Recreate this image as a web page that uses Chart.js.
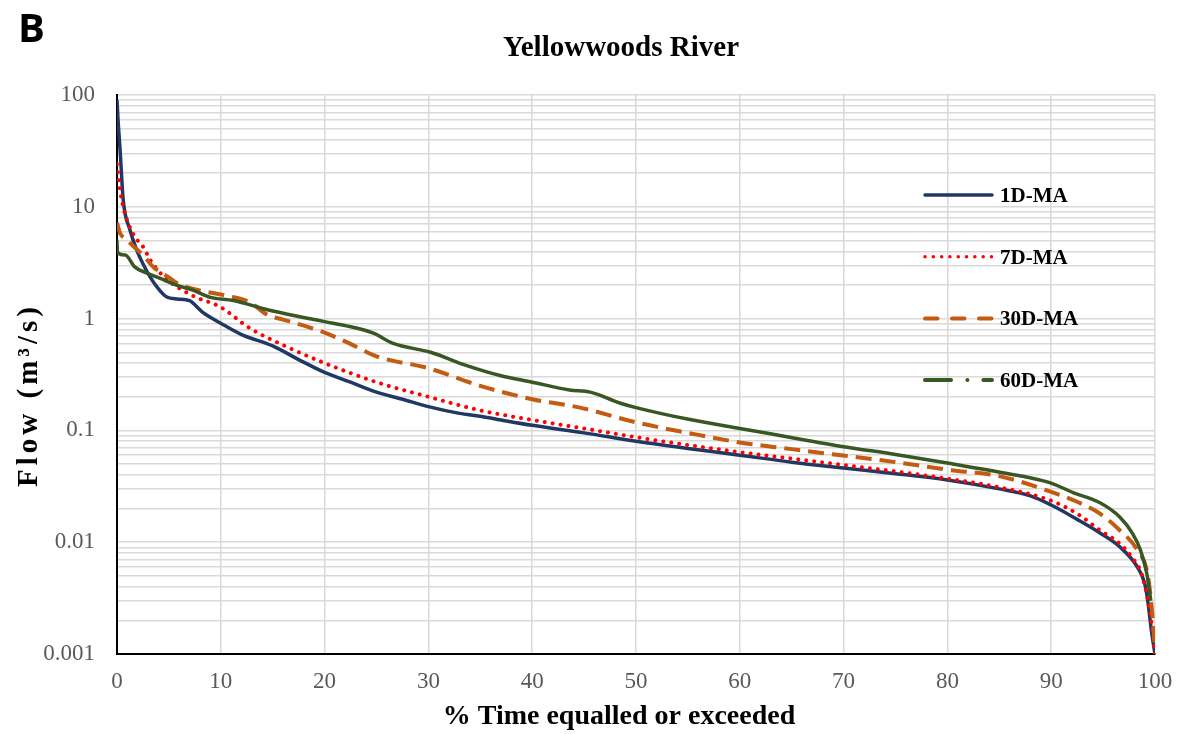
<!DOCTYPE html>
<html>
<head>
<meta charset="utf-8">
<title>Yellowwoods River</title>
<script src="https://cdn.jsdelivr.net/npm/chart.js@4.4.1/dist/chart.umd.min.js"></script>
<style>
  html, body { margin: 0; padding: 0; background: #ffffff; }
  #wrap { width: 1183px; height: 734px; }
</style>
</head>
<body>
<div id="wrap"><canvas id="fdcChart" width="1183" height="734"></canvas></div>
<script>
// Flow duration curves, Yellowwoods River
const seriesNames = ['1D-MA', '7D-MA', '30D-MA', '60D-MA'];

const pct1D  = [0, 0.1, 0.3, 0.6, 1.25, 1.9, 2.5, 3.2, 3.85, 4.8, 5.8, 7, 7.6, 8.3, 9.9, 12, 15, 17.5, 20, 22.5, 25, 27.5, 30, 33, 35, 37, 40, 45, 50, 55, 60, 65, 70, 75, 80, 85, 88, 90, 92.5, 94.7, 96.6, 98.3, 99, 99.3, 99.7, 100];
const flow1D = [90, 60, 32, 11.5, 6.2, 4.1, 3.1, 2.35, 1.92, 1.56, 1.5, 1.45, 1.3, 1.13, 0.92, 0.72, 0.57, 0.43, 0.33, 0.27, 0.22, 0.19, 0.163, 0.142, 0.134, 0.124, 0.111, 0.095, 0.080, 0.069, 0.060, 0.052, 0.046, 0.041, 0.036, 0.030, 0.026, 0.0215, 0.016, 0.0121, 0.0091, 0.0060, 0.0043, 0.003, 0.0015, 0.001];

const pct7D  = [0, 0.3, 0.6, 1.06, 1.7, 2.5, 3.2, 4.1, 5.1, 6.3, 7.7, 9.9, 12.8, 16, 20, 25, 30, 35, 40, 45, 50, 55, 60, 65, 70, 75, 80, 85, 90, 92.5, 94.7, 96.6, 97.8, 98.8, 99.6, 100];
const flow7D = [24, 14, 10, 7.2, 5.4, 4.4, 3.35, 2.6, 2.13, 1.8, 1.54, 1.28, 0.82, 0.58, 0.40, 0.27, 0.20, 0.151, 0.124, 0.104, 0.087, 0.074, 0.064, 0.056, 0.049, 0.043, 0.037, 0.031, 0.0235, 0.018, 0.0128, 0.0097, 0.0073, 0.0049, 0.0021, 0.001];

const pct30D  = [0, 0.3, 0.8, 1.5, 2.5, 3.5, 4.8, 5.8, 7, 8.7, 10.6, 12.8, 14.5, 16, 20, 22.4, 25, 30, 35, 40, 44.6, 50, 55, 60, 65, 70, 75, 80, 85, 90, 92.5, 94.7, 96.6, 98.3, 99.3, 99.7, 100];
const flow30D = [7.2, 5.8, 5.2, 4.5, 3.7, 2.9, 2.4, 2.07, 1.88, 1.73, 1.6, 1.4, 1.08, 0.98, 0.75, 0.60, 0.46, 0.36, 0.25, 0.19, 0.16, 0.118, 0.095, 0.078, 0.068, 0.0595, 0.052, 0.0445, 0.039, 0.0282, 0.023, 0.018, 0.0128, 0.0085, 0.0051, 0.0025, 0.0011];

const pct60D  = [0, 0.05, 0.8, 1.7, 2.9, 4.1, 5.8, 7.3, 9, 11.2, 14.5, 17.6, 20, 22.4, 24.7, 26.6, 30.2, 33.7, 36.9, 40, 43.6, 45.6, 48.5, 50, 55.2, 60, 64.8, 70, 75, 80, 86.7, 88.9, 90, 92.1, 94.7, 96.6, 97.8, 98.6, 99.2, 99.6];
const flow60D = [5.0, 3.9, 3.7, 2.9, 2.55, 2.3, 1.98, 1.8, 1.55, 1.45, 1.2, 1.04, 0.94, 0.85, 0.74, 0.60, 0.50, 0.38, 0.31, 0.27, 0.23, 0.22, 0.175, 0.16, 0.125, 0.104, 0.087, 0.0715, 0.061, 0.051, 0.0397, 0.036, 0.0338, 0.0278, 0.0225, 0.0168, 0.0121, 0.0085, 0.0053, 0.003];

// Axis ticks
const xTicks       = [0, 10, 20, 30, 40, 50, 60, 70, 80, 90, 100];
const yTickValues  = [0.001, 0.01, 0.1, 1, 10, 100];
const yTickLabels  = ['0.001', '0.01', '0.1', '1', '10', '100'];
const yMinorSteps  = [2, 3, 4, 5, 6, 7, 8, 9];

const SERIF = '"Liberation Serif", "Times New Roman", serif';

const toPoints = (xs, ys) => xs.map((x, i) => ({ x, y: ys[i] }));

// gridlines at every 1..9 of each decade, like the spreadsheet original
const yGrid = [];
yTickValues.forEach((v, i) => {
    yGrid.push(v);
    if (i < yTickValues.length - 1) {
        yMinorSteps.forEach(m => yGrid.push(Number((v * m).toPrecision(3))));
    }
});

// legend line styles (the plot itself uses the dataset styles)
const legendDash = [[], [0.01, 8.3], [12.5, 14.5], [26, 16.4, 0.01, 16]];
const legendWidth = [3.5, 3.5, 4, 4];

// ─── Custom titles, panel letter and in-plot legend ──────────────────────
const decorPlugin = {
    id: 'decor',
    afterDraw(chart) {
        const { ctx } = chart;
        ctx.save();

        ctx.fillStyle = '#000000';
        ctx.font = 'bold 40px "Open Sans", "Liberation Sans", sans-serif';
        ctx.textAlign = 'left';
        ctx.textBaseline = 'alphabetic';
        ctx.fillText('B', 18, 42);

        ctx.font = 'bold 29px ' + SERIF;
        ctx.textAlign = 'center';
        ctx.fillText('Yellowwoods River', 621, 56);

        ctx.font = 'bold 28px ' + SERIF;
        ctx.fillText('% Time equalled or exceeded', 619, 724);

        // y axis title, a bit spread out as in the original
        ctx.save();
        ctx.translate(37, 395);
        ctx.rotate(-Math.PI / 2);
        ctx.font = 'bold 29px ' + SERIF;
        ctx.letterSpacing = '4px';
        ctx.textAlign = 'center';
        ctx.fillText('Flow (m³/s)', 0, 0);
        ctx.restore();

        // legend
        const x0 = 925;
        const x1 = 992;
        chart.data.datasets.forEach((ds, i) => {
            const y = 195 + i * 61.7;
            ctx.beginPath();
            ctx.setLineDash(legendDash[i]);
            ctx.lineCap = 'round';
            ctx.lineWidth = legendWidth[i];
            ctx.strokeStyle = ds.borderColor;
            ctx.moveTo(x0, y);
            ctx.lineTo(x1, y);
            ctx.stroke();

            ctx.setLineDash([]);
            ctx.font = 'bold 21px ' + SERIF;
            ctx.textAlign = 'left';
            ctx.fillStyle = '#000000';
            ctx.fillText(ds.label, 1000, y + 7);
        });

        ctx.restore();
    }
};

window.addEventListener('DOMContentLoaded', () => {
    const ctx = document.getElementById('fdcChart').getContext('2d');

    new Chart(ctx, {
        type: 'line',
        data: {
            datasets: [
                {
                    label: seriesNames[0],
                    data: toPoints(pct1D, flow1D),
                    borderColor: '#203864',
                    borderWidth: 3.5
                },
                {
                    label: seriesNames[1],
                    data: toPoints(pct7D, flow7D),
                    borderColor: '#FF0000',
                    borderWidth: 4,
                    borderDash: [0.01, 8],
                    borderCapStyle: 'round'
                },
                {
                    label: seriesNames[2],
                    data: toPoints(pct30D, flow30D),
                    borderColor: '#C55A11',
                    borderWidth: 4,
                    borderDash: [16, 8]
                },
                {
                    label: seriesNames[3],
                    data: toPoints(pct60D, flow60D),
                    borderColor: '#385723',
                    borderWidth: 3.5
                }
            ].map((ds, i) => ({ ...ds, order: 3 - i }))
        },
        options: {
            responsive: false,
            animation: false,
            devicePixelRatio: 1,
            layout: { padding: { top: 95, right: 28, bottom: 0, left: 0 } },
            elements: {
                point: { radius: 0, hoverRadius: 0 },
                line: { cubicInterpolationMode: 'monotone', fill: false }
            },
            plugins: {
                legend: { display: false },
                title: { display: false },
                tooltip: { enabled: false }
            },
            scales: {
                x: {
                    type: 'linear',
                    min: 0,
                    max: 100,
                    afterBuildTicks: scale => { scale.ticks = xTicks.map(v => ({ value: v })); },
                    afterFit: scale => {
                        scale.height = 80;
                        scale.paddingLeft = 0;
                        scale.paddingRight = 0;
                    },
                    grid: { color: '#D9D9D9', lineWidth: 1.5, drawTicks: false },
                    border: { color: '#000000', width: 2 },
                    ticks: {
                        autoSkip: false,
                        maxRotation: 0,
                        padding: 14,
                        color: '#595959',
                        font: { family: SERIF, size: 23 }
                    },
                    title: { display: false }
                },
                y: {
                    type: 'logarithmic',
                    min: 0.001,
                    max: 100,
                    afterBuildTicks: scale => { scale.ticks = yGrid.map(v => ({ value: v })); },
                    afterFit: scale => { scale.width = 117; },
                    grid: { color: '#D9D9D9', lineWidth: 1.5, drawTicks: false },
                    border: { color: '#000000', width: 2 },
                    ticks: {
                        autoSkip: false,
                        padding: 22,
                        color: '#595959',
                        font: { family: SERIF, size: 23 },
                        callback: value => {
                            const k = yTickValues.findIndex(v => Math.abs(v - value) < v * 1e-6);
                            return k >= 0 ? yTickLabels[k] : '';
                        }
                    },
                    title: { display: false }
                }
            }
        },
        plugins: [decorPlugin]
    });
});
</script>
</body>
</html>
